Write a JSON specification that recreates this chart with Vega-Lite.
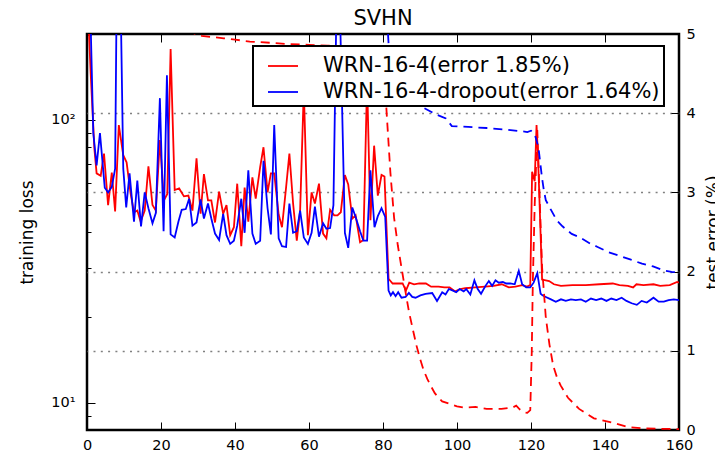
{
  "$schema": "https://vega.github.io/schema/vega-lite/v6.json",
  "width": 592,
  "height": 396,
  "autosize": {"type": "none"},
  "padding": {"left": 87, "top": 34, "right": 36, "bottom": 22},
  "background": "white",
  "title": {"text": "SVHN", "fontSize": 21, "fontWeight": "normal", "font": "DejaVu Sans", "color": "black", "offset": 7, "dy": 10},
  "config": {
    "font": "DejaVu Sans",
    "view": {"stroke": "black", "strokeWidth": 2.5},
    "axis": {"domain": false, "tickColor": "black", "tickWidth": 1, "labelColor": "black", "titleColor": "black", "labelFont": "DejaVu Sans", "titleFont": "DejaVu Sans", "labelFontSize": 14.5, "titleFontSize": 17, "titleFontWeight": "normal", "grid": false, "labelFlush": false, "labelOverlap": false},
    "legend": {"strokeWidth": 2, "fillColor": "white", "zindex": 10}
  },
  "datasets": {
    "loss": [
      {"epoch": 0, "value": 600, "model": "WRN-16-4"},
      {"epoch": 5, "value": 320, "model": "WRN-16-4"},
      {"epoch": 10, "value": 260, "model": "WRN-16-4"},
      {"epoch": 20, "value": 225, "model": "WRN-16-4"},
      {"epoch": 26, "value": 210, "model": "WRN-16-4"},
      {"epoch": 28, "value": 204, "model": "WRN-16-4"},
      {"epoch": 31, "value": 198, "model": "WRN-16-4"},
      {"epoch": 34, "value": 196, "model": "WRN-16-4"},
      {"epoch": 37, "value": 194, "model": "WRN-16-4"},
      {"epoch": 40, "value": 192, "model": "WRN-16-4"},
      {"epoch": 44, "value": 189, "model": "WRN-16-4"},
      {"epoch": 50, "value": 187, "model": "WRN-16-4"},
      {"epoch": 55, "value": 185, "model": "WRN-16-4"},
      {"epoch": 60, "value": 184, "model": "WRN-16-4"},
      {"epoch": 65, "value": 183, "model": "WRN-16-4"},
      {"epoch": 70, "value": 181, "model": "WRN-16-4"},
      {"epoch": 75, "value": 179, "model": "WRN-16-4"},
      {"epoch": 80, "value": 176, "model": "WRN-16-4"},
      {"epoch": 81, "value": 105, "model": "WRN-16-4"},
      {"epoch": 82, "value": 65, "model": "WRN-16-4"},
      {"epoch": 83, "value": 45, "model": "WRN-16-4"},
      {"epoch": 84, "value": 36, "model": "WRN-16-4"},
      {"epoch": 85, "value": 30, "model": "WRN-16-4"},
      {"epoch": 86, "value": 25, "model": "WRN-16-4"},
      {"epoch": 87, "value": 21, "model": "WRN-16-4"},
      {"epoch": 88, "value": 18.3, "model": "WRN-16-4"},
      {"epoch": 89, "value": 16, "model": "WRN-16-4"},
      {"epoch": 90, "value": 14.3, "model": "WRN-16-4"},
      {"epoch": 91, "value": 13, "model": "WRN-16-4"},
      {"epoch": 92, "value": 12.1, "model": "WRN-16-4"},
      {"epoch": 93, "value": 11.4, "model": "WRN-16-4"},
      {"epoch": 94, "value": 10.8, "model": "WRN-16-4"},
      {"epoch": 95, "value": 10.4, "model": "WRN-16-4"},
      {"epoch": 96, "value": 10.1, "model": "WRN-16-4"},
      {"epoch": 98, "value": 9.9, "model": "WRN-16-4"},
      {"epoch": 100, "value": 9.7, "model": "WRN-16-4"},
      {"epoch": 102, "value": 9.6, "model": "WRN-16-4"},
      {"epoch": 105, "value": 9.65, "model": "WRN-16-4"},
      {"epoch": 108, "value": 9.5, "model": "WRN-16-4"},
      {"epoch": 112, "value": 9.5, "model": "WRN-16-4"},
      {"epoch": 115, "value": 9.6, "model": "WRN-16-4"},
      {"epoch": 116, "value": 9.75, "model": "WRN-16-4"},
      {"epoch": 117, "value": 9.45, "model": "WRN-16-4"},
      {"epoch": 118, "value": 9.25, "model": "WRN-16-4"},
      {"epoch": 119, "value": 9.2, "model": "WRN-16-4"},
      {"epoch": 119.8, "value": 9.4, "model": "WRN-16-4"},
      {"epoch": 120.2, "value": 15, "model": "WRN-16-4"},
      {"epoch": 120.5, "value": 27, "model": "WRN-16-4"},
      {"epoch": 121, "value": 50, "model": "WRN-16-4"},
      {"epoch": 121.7, "value": 92, "model": "WRN-16-4"},
      {"epoch": 122.4, "value": 50, "model": "WRN-16-4"},
      {"epoch": 123, "value": 30, "model": "WRN-16-4"},
      {"epoch": 124, "value": 20, "model": "WRN-16-4"},
      {"epoch": 125, "value": 16, "model": "WRN-16-4"},
      {"epoch": 126, "value": 13.5, "model": "WRN-16-4"},
      {"epoch": 127, "value": 12.3, "model": "WRN-16-4"},
      {"epoch": 128, "value": 11.5, "model": "WRN-16-4"},
      {"epoch": 130, "value": 10.4, "model": "WRN-16-4"},
      {"epoch": 133, "value": 9.5, "model": "WRN-16-4"},
      {"epoch": 137, "value": 8.8, "model": "WRN-16-4"},
      {"epoch": 142, "value": 8.5, "model": "WRN-16-4"},
      {"epoch": 146, "value": 8.2, "model": "WRN-16-4"},
      {"epoch": 151, "value": 8.1, "model": "WRN-16-4"},
      {"epoch": 157, "value": 8.07, "model": "WRN-16-4"},
      {"epoch": 160, "value": 8.05, "model": "WRN-16-4"},
      {"epoch": 0, "value": 900, "model": "WRN-16-4-dropout"},
      {"epoch": 10, "value": 400, "model": "WRN-16-4-dropout"},
      {"epoch": 20, "value": 330, "model": "WRN-16-4-dropout"},
      {"epoch": 40, "value": 290, "model": "WRN-16-4-dropout"},
      {"epoch": 60, "value": 270, "model": "WRN-16-4-dropout"},
      {"epoch": 80, "value": 255, "model": "WRN-16-4-dropout"},
      {"epoch": 81, "value": 240, "model": "WRN-16-4-dropout"},
      {"epoch": 82, "value": 145, "model": "WRN-16-4-dropout"},
      {"epoch": 84, "value": 128, "model": "WRN-16-4-dropout"},
      {"epoch": 86, "value": 120, "model": "WRN-16-4-dropout"},
      {"epoch": 90, "value": 112, "model": "WRN-16-4-dropout"},
      {"epoch": 94, "value": 105, "model": "WRN-16-4-dropout"},
      {"epoch": 97, "value": 101, "model": "WRN-16-4-dropout"},
      {"epoch": 98.6, "value": 95, "model": "WRN-16-4-dropout"},
      {"epoch": 103, "value": 94.3, "model": "WRN-16-4-dropout"},
      {"epoch": 108, "value": 93.5, "model": "WRN-16-4-dropout"},
      {"epoch": 113, "value": 92.3, "model": "WRN-16-4-dropout"},
      {"epoch": 117.8, "value": 91, "model": "WRN-16-4-dropout"},
      {"epoch": 119, "value": 90.5, "model": "WRN-16-4-dropout"},
      {"epoch": 120, "value": 91.5, "model": "WRN-16-4-dropout"},
      {"epoch": 121, "value": 89, "model": "WRN-16-4-dropout"},
      {"epoch": 122, "value": 80, "model": "WRN-16-4-dropout"},
      {"epoch": 123, "value": 62, "model": "WRN-16-4-dropout"},
      {"epoch": 123.5, "value": 56, "model": "WRN-16-4-dropout"},
      {"epoch": 124, "value": 52, "model": "WRN-16-4-dropout"},
      {"epoch": 125.4, "value": 48, "model": "WRN-16-4-dropout"},
      {"epoch": 127, "value": 44, "model": "WRN-16-4-dropout"},
      {"epoch": 128.5, "value": 42, "model": "WRN-16-4-dropout"},
      {"epoch": 131, "value": 39.5, "model": "WRN-16-4-dropout"},
      {"epoch": 133, "value": 38.5, "model": "WRN-16-4-dropout"},
      {"epoch": 136, "value": 36.5, "model": "WRN-16-4-dropout"},
      {"epoch": 138, "value": 35.5, "model": "WRN-16-4-dropout"},
      {"epoch": 141, "value": 34, "model": "WRN-16-4-dropout"},
      {"epoch": 144, "value": 33, "model": "WRN-16-4-dropout"},
      {"epoch": 147, "value": 32, "model": "WRN-16-4-dropout"},
      {"epoch": 150, "value": 31, "model": "WRN-16-4-dropout"},
      {"epoch": 153, "value": 30.3, "model": "WRN-16-4-dropout"},
      {"epoch": 156, "value": 29.3, "model": "WRN-16-4-dropout"},
      {"epoch": 158, "value": 29, "model": "WRN-16-4-dropout"},
      {"epoch": 160, "value": 28.8, "model": "WRN-16-4-dropout"}
    ],
    "err": [
      {"epoch": 0, "value": 5.6, "model": "WRN-16-4"},
      {"epoch": 1, "value": 4.5, "model": "WRN-16-4"},
      {"epoch": 2, "value": 3.55, "model": "WRN-16-4"},
      {"epoch": 2.6, "value": 3.24, "model": "WRN-16-4"},
      {"epoch": 3.7, "value": 3.21, "model": "WRN-16-4"},
      {"epoch": 4.6, "value": 3.49, "model": "WRN-16-4"},
      {"epoch": 5.7, "value": 2.84, "model": "WRN-16-4"},
      {"epoch": 6.7, "value": 3.25, "model": "WRN-16-4"},
      {"epoch": 7.6, "value": 2.76, "model": "WRN-16-4"},
      {"epoch": 8.6, "value": 3.85, "model": "WRN-16-4"},
      {"epoch": 9.8, "value": 3.47, "model": "WRN-16-4"},
      {"epoch": 10.7, "value": 3.38, "model": "WRN-16-4"},
      {"epoch": 11.8, "value": 2.98, "model": "WRN-16-4"},
      {"epoch": 12.7, "value": 2.75, "model": "WRN-16-4"},
      {"epoch": 13.6, "value": 2.77, "model": "WRN-16-4"},
      {"epoch": 14.5, "value": 2.63, "model": "WRN-16-4"},
      {"epoch": 15.6, "value": 2.77, "model": "WRN-16-4"},
      {"epoch": 16.6, "value": 3.33, "model": "WRN-16-4"},
      {"epoch": 17.7, "value": 2.84, "model": "WRN-16-4"},
      {"epoch": 18.6, "value": 2.77, "model": "WRN-16-4"},
      {"epoch": 19.7, "value": 3.66, "model": "WRN-16-4"},
      {"epoch": 20.8, "value": 2.9, "model": "WRN-16-4"},
      {"epoch": 21.7, "value": 2.98, "model": "WRN-16-4"},
      {"epoch": 22.6, "value": 4.81, "model": "WRN-16-4"},
      {"epoch": 23.7, "value": 3.03, "model": "WRN-16-4"},
      {"epoch": 24.9, "value": 3.05, "model": "WRN-16-4"},
      {"epoch": 26.2, "value": 2.95, "model": "WRN-16-4"},
      {"epoch": 27.4, "value": 2.96, "model": "WRN-16-4"},
      {"epoch": 28.5, "value": 2.77, "model": "WRN-16-4"},
      {"epoch": 29.6, "value": 3.43, "model": "WRN-16-4"},
      {"epoch": 30.7, "value": 2.73, "model": "WRN-16-4"},
      {"epoch": 31.6, "value": 3.23, "model": "WRN-16-4"},
      {"epoch": 32.7, "value": 2.9, "model": "WRN-16-4"},
      {"epoch": 33.6, "value": 2.9, "model": "WRN-16-4"},
      {"epoch": 34.6, "value": 2.62, "model": "WRN-16-4"},
      {"epoch": 35.7, "value": 3.01, "model": "WRN-16-4"},
      {"epoch": 36.8, "value": 2.73, "model": "WRN-16-4"},
      {"epoch": 37.7, "value": 2.84, "model": "WRN-16-4"},
      {"epoch": 38.7, "value": 2.46, "model": "WRN-16-4"},
      {"epoch": 39.7, "value": 2.56, "model": "WRN-16-4"},
      {"epoch": 40.6, "value": 3.11, "model": "WRN-16-4"},
      {"epoch": 41.7, "value": 2.32, "model": "WRN-16-4"},
      {"epoch": 42.6, "value": 3.06, "model": "WRN-16-4"},
      {"epoch": 43.6, "value": 2.63, "model": "WRN-16-4"},
      {"epoch": 44.7, "value": 3.19, "model": "WRN-16-4"},
      {"epoch": 45.6, "value": 2.92, "model": "WRN-16-4"},
      {"epoch": 46.8, "value": 3.32, "model": "WRN-16-4"},
      {"epoch": 47.7, "value": 3.57, "model": "WRN-16-4"},
      {"epoch": 48.8, "value": 3.0, "model": "WRN-16-4"},
      {"epoch": 49.7, "value": 3.24, "model": "WRN-16-4"},
      {"epoch": 50.6, "value": 3.24, "model": "WRN-16-4"},
      {"epoch": 51.8, "value": 2.72, "model": "WRN-16-4"},
      {"epoch": 52.7, "value": 2.56, "model": "WRN-16-4"},
      {"epoch": 53.8, "value": 3.06, "model": "WRN-16-4"},
      {"epoch": 54.7, "value": 3.49, "model": "WRN-16-4"},
      {"epoch": 55.7, "value": 2.86, "model": "WRN-16-4"},
      {"epoch": 56.7, "value": 2.39, "model": "WRN-16-4"},
      {"epoch": 57.6, "value": 2.77, "model": "WRN-16-4"},
      {"epoch": 58.6, "value": 4.3, "model": "WRN-16-4"},
      {"epoch": 59.7, "value": 2.46, "model": "WRN-16-4"},
      {"epoch": 60.7, "value": 3.0, "model": "WRN-16-4"},
      {"epoch": 61.6, "value": 2.86, "model": "WRN-16-4"},
      {"epoch": 62.7, "value": 3.11, "model": "WRN-16-4"},
      {"epoch": 63.8, "value": 2.48, "model": "WRN-16-4"},
      {"epoch": 64.7, "value": 2.42, "model": "WRN-16-4"},
      {"epoch": 65.7, "value": 2.78, "model": "WRN-16-4"},
      {"epoch": 66.8, "value": 2.71, "model": "WRN-16-4"},
      {"epoch": 67.7, "value": 2.71, "model": "WRN-16-4"},
      {"epoch": 68.6, "value": 2.75, "model": "WRN-16-4"},
      {"epoch": 69.7, "value": 3.22, "model": "WRN-16-4"},
      {"epoch": 70.6, "value": 3.1, "model": "WRN-16-4"},
      {"epoch": 71.7, "value": 2.67, "model": "WRN-16-4"},
      {"epoch": 72.6, "value": 2.71, "model": "WRN-16-4"},
      {"epoch": 73.8, "value": 2.37, "model": "WRN-16-4"},
      {"epoch": 74.7, "value": 2.4, "model": "WRN-16-4"},
      {"epoch": 75.7, "value": 4.4, "model": "WRN-16-4"},
      {"epoch": 76.6, "value": 2.65, "model": "WRN-16-4"},
      {"epoch": 77.6, "value": 3.59, "model": "WRN-16-4"},
      {"epoch": 78.6, "value": 2.96, "model": "WRN-16-4"},
      {"epoch": 79.6, "value": 3.22, "model": "WRN-16-4"},
      {"epoch": 80.4, "value": 3.2, "model": "WRN-16-4"},
      {"epoch": 81.5, "value": 1.91, "model": "WRN-16-4"},
      {"epoch": 82.6, "value": 1.85, "model": "WRN-16-4"},
      {"epoch": 84, "value": 1.85, "model": "WRN-16-4"},
      {"epoch": 85.3, "value": 1.85, "model": "WRN-16-4"},
      {"epoch": 86.2, "value": 1.76, "model": "WRN-16-4"},
      {"epoch": 87.1, "value": 1.86, "model": "WRN-16-4"},
      {"epoch": 88.4, "value": 1.84, "model": "WRN-16-4"},
      {"epoch": 89.8, "value": 1.85, "model": "WRN-16-4"},
      {"epoch": 91.6, "value": 1.85, "model": "WRN-16-4"},
      {"epoch": 93, "value": 1.81, "model": "WRN-16-4"},
      {"epoch": 95, "value": 1.81, "model": "WRN-16-4"},
      {"epoch": 96.6, "value": 1.8, "model": "WRN-16-4"},
      {"epoch": 98, "value": 1.8, "model": "WRN-16-4"},
      {"epoch": 99.5, "value": 1.75, "model": "WRN-16-4"},
      {"epoch": 100.9, "value": 1.78, "model": "WRN-16-4"},
      {"epoch": 102.2, "value": 1.79, "model": "WRN-16-4"},
      {"epoch": 104.9, "value": 1.8, "model": "WRN-16-4"},
      {"epoch": 107.6, "value": 1.81, "model": "WRN-16-4"},
      {"epoch": 109.9, "value": 1.82, "model": "WRN-16-4"},
      {"epoch": 112.1, "value": 1.84, "model": "WRN-16-4"},
      {"epoch": 114, "value": 1.8, "model": "WRN-16-4"},
      {"epoch": 115.8, "value": 1.81, "model": "WRN-16-4"},
      {"epoch": 117.6, "value": 1.83, "model": "WRN-16-4"},
      {"epoch": 118.9, "value": 1.81, "model": "WRN-16-4"},
      {"epoch": 119.8, "value": 1.83, "model": "WRN-16-4"},
      {"epoch": 120.3, "value": 3.26, "model": "WRN-16-4"},
      {"epoch": 121, "value": 3.14, "model": "WRN-16-4"},
      {"epoch": 121.5, "value": 3.85, "model": "WRN-16-4"},
      {"epoch": 121.9, "value": 3.45, "model": "WRN-16-4"},
      {"epoch": 123, "value": 1.9, "model": "WRN-16-4"},
      {"epoch": 124.9, "value": 1.88, "model": "WRN-16-4"},
      {"epoch": 126.2, "value": 1.84, "model": "WRN-16-4"},
      {"epoch": 128.1, "value": 1.82, "model": "WRN-16-4"},
      {"epoch": 131.2, "value": 1.83, "model": "WRN-16-4"},
      {"epoch": 134.8, "value": 1.83, "model": "WRN-16-4"},
      {"epoch": 138.5, "value": 1.84, "model": "WRN-16-4"},
      {"epoch": 142.1, "value": 1.85, "model": "WRN-16-4"},
      {"epoch": 143.9, "value": 1.83, "model": "WRN-16-4"},
      {"epoch": 146.2, "value": 1.82, "model": "WRN-16-4"},
      {"epoch": 147.6, "value": 1.8, "model": "WRN-16-4"},
      {"epoch": 148.5, "value": 1.84, "model": "WRN-16-4"},
      {"epoch": 150.4, "value": 1.83, "model": "WRN-16-4"},
      {"epoch": 153.1, "value": 1.84, "model": "WRN-16-4"},
      {"epoch": 154.9, "value": 1.82, "model": "WRN-16-4"},
      {"epoch": 157.5, "value": 1.83, "model": "WRN-16-4"},
      {"epoch": 159.5, "value": 1.87, "model": "WRN-16-4"},
      {"epoch": 160, "value": 1.86, "model": "WRN-16-4"},
      {"epoch": 0, "value": 7.5, "model": "WRN-16-4-dropout"},
      {"epoch": 1, "value": 5.1, "model": "WRN-16-4-dropout"},
      {"epoch": 1.7, "value": 3.75, "model": "WRN-16-4-dropout"},
      {"epoch": 2.6, "value": 3.34, "model": "WRN-16-4-dropout"},
      {"epoch": 3.5, "value": 3.75, "model": "WRN-16-4-dropout"},
      {"epoch": 4.8, "value": 3.06, "model": "WRN-16-4-dropout"},
      {"epoch": 5.7, "value": 3.0, "model": "WRN-16-4-dropout"},
      {"epoch": 6.7, "value": 3.07, "model": "WRN-16-4-dropout"},
      {"epoch": 7.6, "value": 3.3, "model": "WRN-16-4-dropout"},
      {"epoch": 8.4, "value": 7.5, "model": "WRN-16-4-dropout"},
      {"epoch": 9.8, "value": 3.3, "model": "WRN-16-4-dropout"},
      {"epoch": 10.6, "value": 2.81, "model": "WRN-16-4-dropout"},
      {"epoch": 11.5, "value": 3.24, "model": "WRN-16-4-dropout"},
      {"epoch": 12.7, "value": 2.63, "model": "WRN-16-4-dropout"},
      {"epoch": 13.6, "value": 3.15, "model": "WRN-16-4-dropout"},
      {"epoch": 14.6, "value": 2.57, "model": "WRN-16-4-dropout"},
      {"epoch": 15.6, "value": 3.0, "model": "WRN-16-4-dropout"},
      {"epoch": 16.6, "value": 2.8, "model": "WRN-16-4-dropout"},
      {"epoch": 17.7, "value": 2.61, "model": "WRN-16-4-dropout"},
      {"epoch": 18.6, "value": 2.74, "model": "WRN-16-4-dropout"},
      {"epoch": 19.7, "value": 4.19, "model": "WRN-16-4-dropout"},
      {"epoch": 20.7, "value": 2.51, "model": "WRN-16-4-dropout"},
      {"epoch": 21.6, "value": 4.48, "model": "WRN-16-4-dropout"},
      {"epoch": 22.6, "value": 2.47, "model": "WRN-16-4-dropout"},
      {"epoch": 23.7, "value": 2.43, "model": "WRN-16-4-dropout"},
      {"epoch": 24.7, "value": 2.63, "model": "WRN-16-4-dropout"},
      {"epoch": 25.6, "value": 2.78, "model": "WRN-16-4-dropout"},
      {"epoch": 26.7, "value": 2.79, "model": "WRN-16-4-dropout"},
      {"epoch": 27.6, "value": 2.92, "model": "WRN-16-4-dropout"},
      {"epoch": 28.5, "value": 2.58, "model": "WRN-16-4-dropout"},
      {"epoch": 29.6, "value": 2.62, "model": "WRN-16-4-dropout"},
      {"epoch": 30.7, "value": 2.91, "model": "WRN-16-4-dropout"},
      {"epoch": 31.6, "value": 2.67, "model": "WRN-16-4-dropout"},
      {"epoch": 32.7, "value": 2.86, "model": "WRN-16-4-dropout"},
      {"epoch": 33.6, "value": 2.67, "model": "WRN-16-4-dropout"},
      {"epoch": 34.6, "value": 2.48, "model": "WRN-16-4-dropout"},
      {"epoch": 35.7, "value": 2.4, "model": "WRN-16-4-dropout"},
      {"epoch": 36.8, "value": 2.73, "model": "WRN-16-4-dropout"},
      {"epoch": 37.7, "value": 2.46, "model": "WRN-16-4-dropout"},
      {"epoch": 38.7, "value": 2.35, "model": "WRN-16-4-dropout"},
      {"epoch": 39.7, "value": 2.39, "model": "WRN-16-4-dropout"},
      {"epoch": 40.6, "value": 2.58, "model": "WRN-16-4-dropout"},
      {"epoch": 41.7, "value": 2.92, "model": "WRN-16-4-dropout"},
      {"epoch": 42.6, "value": 2.49, "model": "WRN-16-4-dropout"},
      {"epoch": 43.6, "value": 3.28, "model": "WRN-16-4-dropout"},
      {"epoch": 44.7, "value": 2.48, "model": "WRN-16-4-dropout"},
      {"epoch": 45.6, "value": 2.35, "model": "WRN-16-4-dropout"},
      {"epoch": 46.8, "value": 2.39, "model": "WRN-16-4-dropout"},
      {"epoch": 47.7, "value": 3.4, "model": "WRN-16-4-dropout"},
      {"epoch": 48.8, "value": 2.8, "model": "WRN-16-4-dropout"},
      {"epoch": 49.7, "value": 2.47, "model": "WRN-16-4-dropout"},
      {"epoch": 50.6, "value": 3.85, "model": "WRN-16-4-dropout"},
      {"epoch": 51.8, "value": 2.42, "model": "WRN-16-4-dropout"},
      {"epoch": 52.7, "value": 2.32, "model": "WRN-16-4-dropout"},
      {"epoch": 53.8, "value": 2.31, "model": "WRN-16-4-dropout"},
      {"epoch": 54.7, "value": 2.86, "model": "WRN-16-4-dropout"},
      {"epoch": 55.7, "value": 2.49, "model": "WRN-16-4-dropout"},
      {"epoch": 56.7, "value": 2.51, "model": "WRN-16-4-dropout"},
      {"epoch": 57.6, "value": 2.77, "model": "WRN-16-4-dropout"},
      {"epoch": 58.6, "value": 2.43, "model": "WRN-16-4-dropout"},
      {"epoch": 59.7, "value": 2.35, "model": "WRN-16-4-dropout"},
      {"epoch": 60.7, "value": 2.49, "model": "WRN-16-4-dropout"},
      {"epoch": 61.6, "value": 2.82, "model": "WRN-16-4-dropout"},
      {"epoch": 62.7, "value": 2.44, "model": "WRN-16-4-dropout"},
      {"epoch": 63.8, "value": 2.61, "model": "WRN-16-4-dropout"},
      {"epoch": 64.7, "value": 2.54, "model": "WRN-16-4-dropout"},
      {"epoch": 65.7, "value": 2.55, "model": "WRN-16-4-dropout"},
      {"epoch": 66.6, "value": 2.84, "model": "WRN-16-4-dropout"},
      {"epoch": 67.8, "value": 6.5, "model": "WRN-16-4-dropout"},
      {"epoch": 69.7, "value": 2.49, "model": "WRN-16-4-dropout"},
      {"epoch": 70.6, "value": 2.3, "model": "WRN-16-4-dropout"},
      {"epoch": 71.7, "value": 2.81, "model": "WRN-16-4-dropout"},
      {"epoch": 72.6, "value": 2.69, "model": "WRN-16-4-dropout"},
      {"epoch": 73.8, "value": 2.51, "model": "WRN-16-4-dropout"},
      {"epoch": 74.7, "value": 2.39, "model": "WRN-16-4-dropout"},
      {"epoch": 75.7, "value": 2.39, "model": "WRN-16-4-dropout"},
      {"epoch": 76.6, "value": 3.28, "model": "WRN-16-4-dropout"},
      {"epoch": 77.7, "value": 2.56, "model": "WRN-16-4-dropout"},
      {"epoch": 78.6, "value": 2.7, "model": "WRN-16-4-dropout"},
      {"epoch": 79.6, "value": 2.8, "model": "WRN-16-4-dropout"},
      {"epoch": 80.6, "value": 2.69, "model": "WRN-16-4-dropout"},
      {"epoch": 81.5, "value": 1.76, "model": "WRN-16-4-dropout"},
      {"epoch": 82.1, "value": 1.7, "model": "WRN-16-4-dropout"},
      {"epoch": 82.7, "value": 1.74, "model": "WRN-16-4-dropout"},
      {"epoch": 83.4, "value": 1.69, "model": "WRN-16-4-dropout"},
      {"epoch": 84.1, "value": 1.74, "model": "WRN-16-4-dropout"},
      {"epoch": 85, "value": 1.67, "model": "WRN-16-4-dropout"},
      {"epoch": 86.1, "value": 1.68, "model": "WRN-16-4-dropout"},
      {"epoch": 87, "value": 1.73, "model": "WRN-16-4-dropout"},
      {"epoch": 87.9, "value": 1.68, "model": "WRN-16-4-dropout"},
      {"epoch": 88.8, "value": 1.67, "model": "WRN-16-4-dropout"},
      {"epoch": 90.1, "value": 1.7, "model": "WRN-16-4-dropout"},
      {"epoch": 91.5, "value": 1.72, "model": "WRN-16-4-dropout"},
      {"epoch": 93.3, "value": 1.73, "model": "WRN-16-4-dropout"},
      {"epoch": 94.6, "value": 1.63, "model": "WRN-16-4-dropout"},
      {"epoch": 96, "value": 1.74, "model": "WRN-16-4-dropout"},
      {"epoch": 96.9, "value": 1.71, "model": "WRN-16-4-dropout"},
      {"epoch": 97.8, "value": 1.78, "model": "WRN-16-4-dropout"},
      {"epoch": 98.9, "value": 1.76, "model": "WRN-16-4-dropout"},
      {"epoch": 99.8, "value": 1.74, "model": "WRN-16-4-dropout"},
      {"epoch": 100.7, "value": 1.78, "model": "WRN-16-4-dropout"},
      {"epoch": 101.8, "value": 1.75, "model": "WRN-16-4-dropout"},
      {"epoch": 102.5, "value": 1.78, "model": "WRN-16-4-dropout"},
      {"epoch": 103.6, "value": 1.71, "model": "WRN-16-4-dropout"},
      {"epoch": 104.7, "value": 1.89, "model": "WRN-16-4-dropout"},
      {"epoch": 105.6, "value": 1.78, "model": "WRN-16-4-dropout"},
      {"epoch": 106.5, "value": 1.72, "model": "WRN-16-4-dropout"},
      {"epoch": 107.7, "value": 1.82, "model": "WRN-16-4-dropout"},
      {"epoch": 108.6, "value": 1.88, "model": "WRN-16-4-dropout"},
      {"epoch": 109.5, "value": 1.82, "model": "WRN-16-4-dropout"},
      {"epoch": 110.4, "value": 1.89, "model": "WRN-16-4-dropout"},
      {"epoch": 111.3, "value": 1.86, "model": "WRN-16-4-dropout"},
      {"epoch": 112.4, "value": 1.87, "model": "WRN-16-4-dropout"},
      {"epoch": 113.3, "value": 1.85, "model": "WRN-16-4-dropout"},
      {"epoch": 114.4, "value": 1.85, "model": "WRN-16-4-dropout"},
      {"epoch": 115.6, "value": 1.84, "model": "WRN-16-4-dropout"},
      {"epoch": 116.7, "value": 2.01, "model": "WRN-16-4-dropout"},
      {"epoch": 117.6, "value": 1.84, "model": "WRN-16-4-dropout"},
      {"epoch": 118.7, "value": 1.8, "model": "WRN-16-4-dropout"},
      {"epoch": 119.8, "value": 1.8, "model": "WRN-16-4-dropout"},
      {"epoch": 120.7, "value": 1.86, "model": "WRN-16-4-dropout"},
      {"epoch": 121.7, "value": 1.98, "model": "WRN-16-4-dropout"},
      {"epoch": 122.6, "value": 1.72, "model": "WRN-16-4-dropout"},
      {"epoch": 123.1, "value": 1.7, "model": "WRN-16-4-dropout"},
      {"epoch": 124, "value": 1.68, "model": "WRN-16-4-dropout"},
      {"epoch": 125.4, "value": 1.65, "model": "WRN-16-4-dropout"},
      {"epoch": 126.7, "value": 1.62, "model": "WRN-16-4-dropout"},
      {"epoch": 128.1, "value": 1.65, "model": "WRN-16-4-dropout"},
      {"epoch": 129.4, "value": 1.63, "model": "WRN-16-4-dropout"},
      {"epoch": 130.8, "value": 1.65, "model": "WRN-16-4-dropout"},
      {"epoch": 132.1, "value": 1.64, "model": "WRN-16-4-dropout"},
      {"epoch": 133.5, "value": 1.65, "model": "WRN-16-4-dropout"},
      {"epoch": 134.8, "value": 1.62, "model": "WRN-16-4-dropout"},
      {"epoch": 136.2, "value": 1.66, "model": "WRN-16-4-dropout"},
      {"epoch": 137.6, "value": 1.64, "model": "WRN-16-4-dropout"},
      {"epoch": 139, "value": 1.66, "model": "WRN-16-4-dropout"},
      {"epoch": 140.4, "value": 1.63, "model": "WRN-16-4-dropout"},
      {"epoch": 141.7, "value": 1.66, "model": "WRN-16-4-dropout"},
      {"epoch": 143.1, "value": 1.64, "model": "WRN-16-4-dropout"},
      {"epoch": 144.5, "value": 1.67, "model": "WRN-16-4-dropout"},
      {"epoch": 145.8, "value": 1.63, "model": "WRN-16-4-dropout"},
      {"epoch": 147.2, "value": 1.6, "model": "WRN-16-4-dropout"},
      {"epoch": 148.6, "value": 1.58, "model": "WRN-16-4-dropout"},
      {"epoch": 149.9, "value": 1.63, "model": "WRN-16-4-dropout"},
      {"epoch": 151.3, "value": 1.61, "model": "WRN-16-4-dropout"},
      {"epoch": 153.1, "value": 1.67, "model": "WRN-16-4-dropout"},
      {"epoch": 154.5, "value": 1.62, "model": "WRN-16-4-dropout"},
      {"epoch": 155.9, "value": 1.62, "model": "WRN-16-4-dropout"},
      {"epoch": 157.2, "value": 1.64, "model": "WRN-16-4-dropout"},
      {"epoch": 158.6, "value": 1.65, "model": "WRN-16-4-dropout"},
      {"epoch": 160, "value": 1.64, "model": "WRN-16-4-dropout"}
    ]
  },
  "layer": [
    {
      "data": {"name": "err"},
      "mark": {"type": "line", "clip": true, "strokeWidth": 1.8},
      "encoding": {
        "x": {"field": "epoch", "type": "quantitative", "scale": {"domain": [0, 160], "nice": false, "zero": false},
          "axis": {"orient": "top", "values": [0, 20, 40, 60, 80, 100, 120, 140, 160], "tickSize": -8, "labels": false, "title": null}},
        "y": {"field": "value", "type": "quantitative", "scale": {"domain": [0, 5], "nice": false, "zero": true},
          "axis": {"orient": "right", "values": [0, 1, 2, 3, 4, 5], "tickSize": -8, "labelPadding": 15, "labelAlign": "left", "labelBaseline": "middle",
            "grid": true, "gridDash": [2, 5.3], "gridColor": "#808080", "gridWidth": 1.5,
            "gridOpacity": {"condition": {"test": "datum.value == 0 || datum.value == 5", "value": 0}, "value": 1},
            "title": "test error (%)", "titleAngle": 270, "titleX": 39, "titleY": 198, "titleBaseline": "alphabetic", "titleAlign": "center"}},
        "color": {"field": "model", "type": "nominal", "scale": {"domain": ["WRN-16-4", "WRN-16-4-dropout"], "range": ["#ff0000", "#0000ff"]},
          "legend": {"orient": "none", "legendX": 166, "legendY": 12, "zindex": 10, "title": null, "symbolType": "stroke", "symbolSize": 900, "symbolStrokeWidth": 1.8,
            "labelFontSize": 21, "labelFont": "DejaVu Sans", "labelColor": "black", "fillColor": "white", "strokeColor": "black", "padding": 4,
            "symbolOffset": 10, "labelOffset": 24, "rowPadding": 0, "labelLimit": 600,
            "labelExpr": "datum.label == 'WRN-16-4' ? 'WRN-16-4(error 1.85%)\u00a0' : 'WRN-16-4-dropout(error 1.64%)\u00a0'"}}
      }
    },
    {
      "data": {"name": "loss"},
      "mark": {"type": "line", "clip": true, "strokeDash": [9, 6], "strokeWidth": 1.8},
      "encoding": {
        "x": {"field": "epoch", "type": "quantitative", "scale": {"domain": [0, 160], "nice": false, "zero": false},
          "axis": {"orient": "bottom", "values": [0, 20, 40, 60, 80, 100, 120, 140, 160], "tickSize": -8, "labelPadding": 16, "title": null}},
        "y": {"field": "value", "type": "quantitative", "scale": {"type": "log", "domain": [8, 201], "nice": false},
          "axis": {"orient": "left", "values": [8, 9, 10, 20, 30, 40, 50, 60, 70, 80, 90, 100, 200],
            "tickSize": {"condition": {"test": "datum.value == 10 || datum.value == 100", "value": -8}, "value": -4},
            "labelExpr": "datum.value == 10 ? '10¹' : datum.value == 100 ? '10²' : ''",
            "labelPadding": 20, "labelAlign": "right", "labelBaseline": "middle",
            "title": "training loss", "titleAngle": 270, "titleX": -55, "titleY": 198, "titleBaseline": "alphabetic", "titleAlign": "center"}},
        "color": {"field": "model", "type": "nominal", "scale": {"domain": ["WRN-16-4", "WRN-16-4-dropout"], "range": ["#ff0000", "#0000ff"]}}
      }
    }
  ],
  "resolve": {"scale": {"y": "independent"}, "axis": {"x": "independent"}}
}
